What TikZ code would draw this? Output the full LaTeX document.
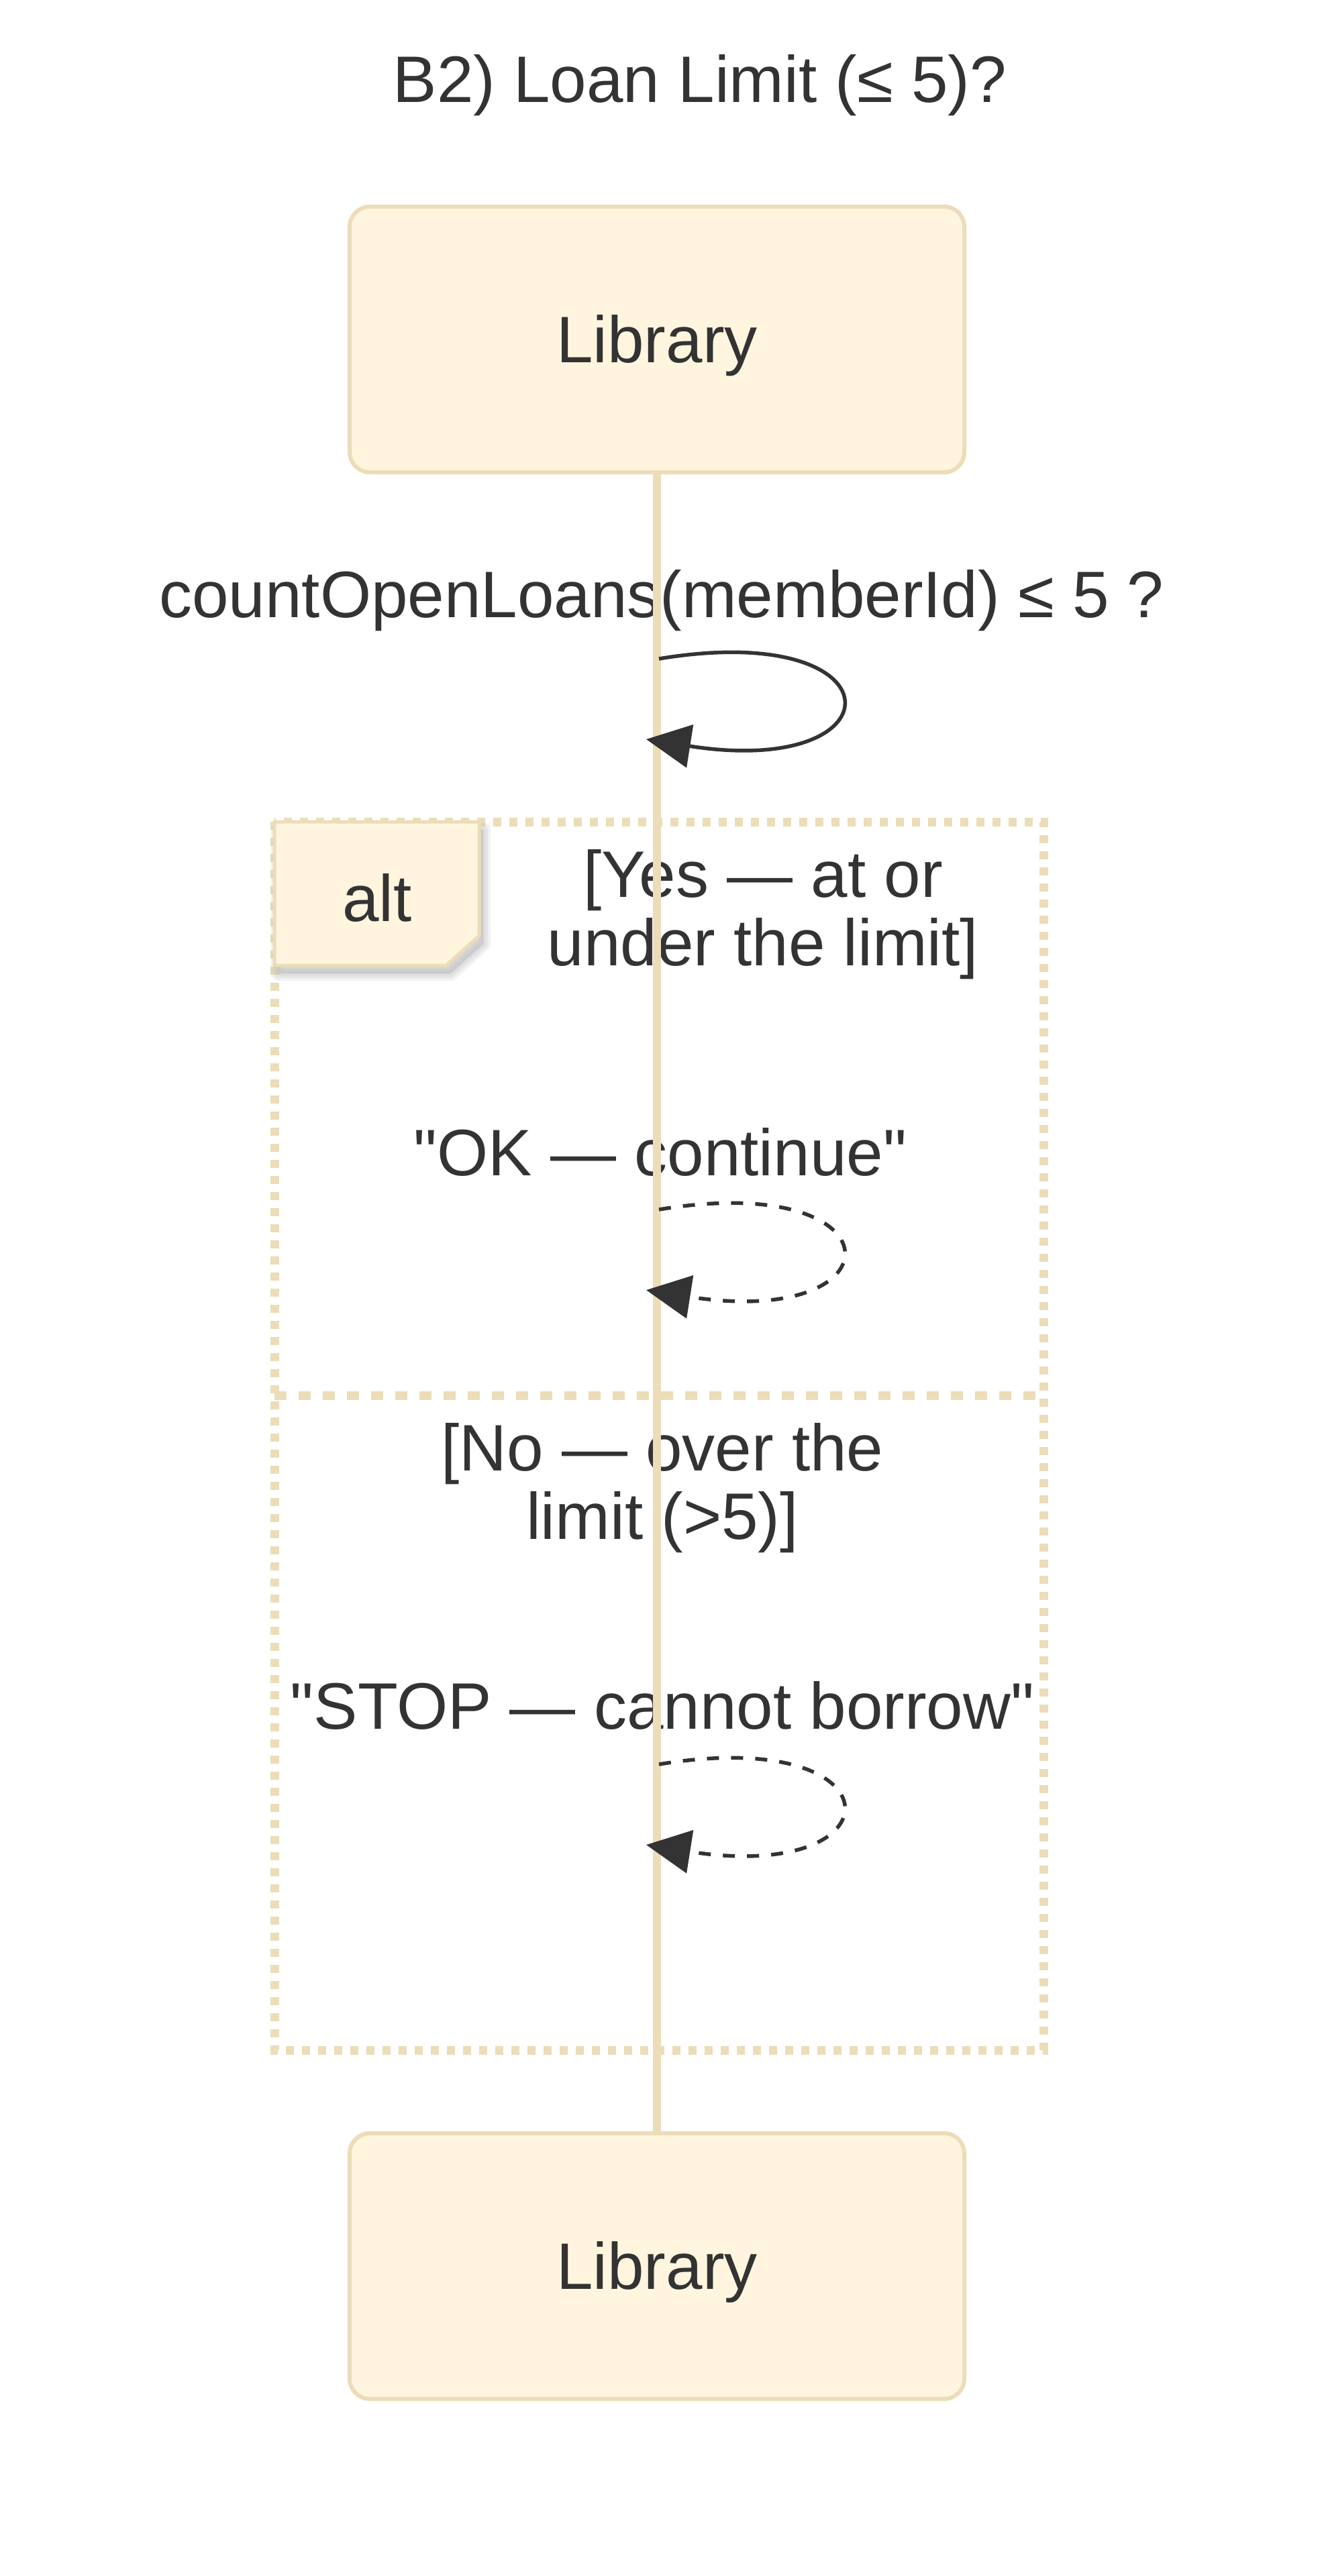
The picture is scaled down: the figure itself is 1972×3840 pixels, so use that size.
\documentclass[tikz,border=0pt]{standalone}
\usepackage{fontspec}
\setmainfont{Liberation Sans}
\usetikzlibrary{arrows.meta}

\definecolor{inkgray}{RGB}{51,51,51}
\definecolor{actorline}{RGB}{236,220,184}
\definecolor{actorfill}{RGB}{255,245,222}
\definecolor{shadowgray}{RGB}{185,185,185}

\tikzset{every picture/.style={line width=0.75pt}}
\tikzset{
  actorbox/.style={draw=actorline, fill=actorfill, line width=3pt, rounded corners=15pt,
    minimum width=458pt, minimum height=198pt, text=inkgray,
    font=\fontsize{49}{51}\selectfont, text height=40pt, text depth=6pt},
  msgtext/.style={text=inkgray, font=\fontsize{49}{51}\selectfont, align=center, anchor=base, inner sep=0pt},
  lifeline/.style={draw=actorline, line width=6pt},
  framedots/.style={draw=actorline, line width=6.5pt, dash pattern=on 6pt off 6pt},
  framesplit/.style={draw=actorline, line width=6.5pt, dash pattern=on 9pt off 9pt},
  altbox/.style={draw=actorline, fill=actorfill, line width=2.5pt},
  selfmsg/.style={draw=inkgray, line width=2.75pt, -{Triangle[length=33pt,width=32pt]}},
  replymsg/.style={selfmsg, dash pattern=on 9pt off 9pt},
}

\begin{document}
\begin{tikzpicture}[x=0.5pt,y=0.5pt,yscale=-1,xscale=1]
\useasboundingbox (0,0) rectangle (1972,3840);
\fill[white] (0,0) rectangle (1972,3840);

% Text Node
\node[msgtext] (title) at (1043,152) {B2) Loan Limit (≤ 5)?};

%Shape: Rectangle (alt frame)
\draw[framedots] (409,1225) rectangle (1555,3056);
%Straight Lines (else divider)
\draw[framesplit] (409,2080) -- (1555,2080);

%Shape: Actor boxes
\node[actorbox] (libTop) at (979,506) {Library};
\node[actorbox] (libBot) at (979,3378) {Library};

% Text Node
\node[msgtext] (askText) at (986,920) {countOpenLoans(memberId) ≤ 5 ?};
% Text Node
\node[msgtext] (yesGuard) at (1137,1439) {[Yes — at or\\under the limit]};
% Text Node
\node[msgtext] (okText) at (984,1752) {\textquotedbl OK — continue\textquotedbl};
% Text Node
\node[msgtext] (noGuard) at (987,2294) {[No — over the\\limit (>5)]};
% Text Node
\node[msgtext] (stopText) at (987,2577) {\textquotedbl STOP — cannot borrow\textquotedbl};

%Straight Lines (lifeline)
\draw[lifeline] (libTop.south) -- (libBot.north);

%Shape: alt label with shadow
\foreach \b in {22,14,6}
  \filldraw[shadowgray, opacity=0.2, line width=\b*0.5pt, line join=round, shift={(6,12)}] (409,1225) -- (714,1225) -- (714,1395) -- (665,1439) -- (409,1439) -- cycle;
\draw[altbox] (409,1225) -- (714,1225) -- (714,1395) -- (665,1439) -- (409,1439) -- cycle;
\node[msgtext] (altTag) at (562,1373) {alt};

%Curve Lines (self messages)
\coordinate (askOut) at (982,982);
\coordinate (askIn) at (963,1102);
\draw[selfmsg] (askOut) .. controls +(362,-60) and +(381,60) .. (askIn);

\coordinate (okOut) at (982,1803);
\coordinate (okIn) at (963,1923);
\draw[replymsg] (okOut) .. controls +(362,-60) and +(381,60) .. (okIn);

\coordinate (stopOut) at (982,2630);
\coordinate (stopIn) at (963,2750);
\draw[replymsg] (stopOut) .. controls +(362,-60) and +(381,60) .. (stopIn);

\end{tikzpicture}
\end{document}
